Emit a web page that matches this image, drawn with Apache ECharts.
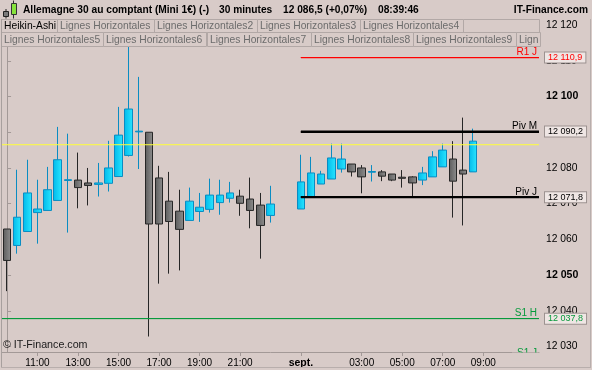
<!DOCTYPE html>
<html><head><meta charset="utf-8">
<script src="https://cdn.jsdelivr.net/npm/echarts@6/dist/echarts.min.js"></script>
<style>html,body{margin:0;padding:0;background:#d8cbc8;}#c{width:592px;height:370px;}</style>
</head><body><div id="c"></div>
<script>
// ---- DATA ----
const categories = [
  '31.08 09:30','31.08 10:00','31.08 10:30','31.08 11:00','31.08 11:30','31.08 12:00','31.08 12:30','31.08 13:00',
  '31.08 13:30','31.08 14:00','31.08 14:30','31.08 15:00','31.08 15:30','31.08 16:00','31.08 16:30','31.08 17:00',
  '31.08 17:30','31.08 18:00','31.08 18:30','31.08 19:00','31.08 19:30','31.08 20:00','31.08 20:30','31.08 21:00',
  '31.08 21:30','31.08 22:00','31.08 22:30','31.08 23:00','31.08 23:30',
  '01.09 00:00','01.09 00:30','01.09 01:00','01.09 01:30','01.09 02:00','01.09 02:30','01.09 03:00','01.09 03:30',
  '01.09 04:00','01.09 04:30','01.09 05:00','01.09 05:30','01.09 06:00','01.09 06:30','01.09 07:00','01.09 07:30',
  '01.09 08:00','01.09 08:30','01.09 09:00','01.09 09:30','01.09 10:00','01.09 10:30','01.09 11:00','01.09 11:30'
];
const opens = [12062.9,12058.3,12062.2,12067.5,12068.1,12070.9,12076.5,12076.6,12075.8,12075.4,12075.7,12077.6,12083.5,12090.1,
  12090.0,12077.2,12070.7,12067.9,12065.3,12067.8,12068.4,12070.3,12071.5,12072.1,12071.3,12069.6,12066.7,null,null,
  12068.5,12072.0,12075.5,12076.9,12079.7,12081.1,12080.0,12078.8,12078.9,12078.3,12077.4,12077.5,12076.6,12077.5,12080.3,
  12082.5,12079.4,12078.9,null,null,null,null,null,null];
const closes = [12054.1,12066.2,12073.0,12068.5,12073.9,12082.3,12076.7,12074.5,12075.1,12075.8,12080.0,12089.2,12096.5,12090.3,
  12064.3,12064.3,12065.0,12062.8,12070.7,12069.0,12072.4,12072.4,12073.0,12070.1,12068.1,12063.9,12069.9,null,null,
  12076.1,12078.6,12078.3,12082.8,12082.5,12078.9,12077.5,12079.0,12077.7,12076.6,12077.1,12075.8,12078.6,12083.1,12085.0,
  12076.3,12078.3,12087.5,null,null,null,null,null,null];
const lows = [12045.5,12056.0,12062.2,12058.8,12068.1,12070.9,12061.9,12068.7,12069.5,12072.0,12073.4,12077.6,12083.2,12079.7,
  12032.8,12047.6,12050.4,12051.3,12065.3,12064.9,12067.5,12066.9,12070.3,12066.6,12063.1,12054.6,12064.7,null,null,
  12068.5,12072.0,12075.5,12076.9,12078.7,12077.6,12072.9,12076.2,12076.3,12076.3,12074.5,12072.1,12075.2,12077.5,12080.3,
  12066.1,12063.9,12078.9,null,null,null,null,null,null];
const highs = [12062.9,12079.5,12082.3,12076.7,12080.3,12091.5,12089.6,12084.3,12080.0,12081.4,12087.6,12097.1,12114.0,12105.5,
  12090.0,12080.6,12078.9,12073.9,12074.5,12073.0,12077.0,12076.7,12076.1,12073.9,12077.3,12073.0,12075.0,null,null,
  12083.7,12083.1,12079.2,12086.8,12086.8,12081.1,12080.8,12080.8,12079.4,12078.3,12079.4,12077.7,12080.3,12084.7,12086.8,
  12087.5,12094.1,12091.0,null,null,null,null,null,null];

const tickCategories = ['31.08 11:00','31.08 13:00','31.08 15:00','31.08 17:00','31.08 19:00','31.08 21:00',
  '01.09 00:00','01.09 03:00','01.09 05:00','01.09 07:00','01.09 09:00'];
const tickTexts = ['11:00','13:00','15:00','17:00','19:00','21:00','sept.','03:00','05:00','07:00','09:00'];
const yTicks = [12030,12040,12050,12060,12070,12080,12090,12100,12110,12120];

const levelNames  = ['R1 J','Piv M','Piv J','S1 H'];
const levelValues = [12110.9, 12090.2, 12071.8, 12037.8];
const levelStart  = ['01.09 00:00','01.09 00:00','01.09 00:00','31.08 09:30'];
const lastPrice = 12086.5;

// ---- STYLE ----
const BG = '#d8cbc8';
const FONT = '"Liberation Sans", Arial, sans-serif';
const AXIS_C = '#a39997';
const LEVEL_STYLE = {
  'R1 J': {color:'#ff0000', width:1.2},
  'Piv M': {color:'#000000', width:2},
  'Piv J': {color:'#000000', width:2},
  'S1 H': {color:'#079a3c', width:1}
};
const Y_MIN = 12028.46, Y_MAX = 12121.15;
const X_MAX = categories.length - 0.5;

function fmtPrice(v, dec) {
  const s = v.toFixed(dec);
  const parts = s.split('.');
  const ip = parts[0].replace(/\B(?=(\d{3})+(?!\d))/g, ' ');
  return parts[1] ? ip + ',' + parts[1] : ip;
}

const chart = echarts.init(document.getElementById('c'), null, {renderer:'canvas', width:592, height:370});

const candleData = categories.map((c, i) => opens[i] == null ? '-' : [opens[i], closes[i], lows[i], highs[i]]);

const bullGrad = new echarts.graphic.LinearGradient(0,0,1,0,[{offset:0,color:'#00b9ea'},{offset:1,color:'#2ae6ff'}]);
const bearGrad = new echarts.graphic.LinearGradient(0,0,1,0,[{offset:0,color:'#5c5c5c'},{offset:1,color:'#8e8e8e'}]);

const showTick = (i, v) => tickCategories.indexOf(v) >= 0;

const levelSeries = levelNames.map((name, i) => {
  const st = LEVEL_STYLE[name];
  const idx = categories.indexOf(levelStart[i]);
  const x0 = idx <= 0 ? -0.5 : idx;
  const v = levelValues[i];
  const boxLabel = {show:true, position:'end', formatter:fmtPrice(v,1), color:st.color, fontSize:9, fontFamily:FONT,
    backgroundColor:'#efe6e4', borderColor:'#9c9290', borderWidth:1, padding:[1,3,0,3], distance:6};
  const nameLabel = {show:true, position:'insideEndTop', formatter:name, color:st.color, fontSize:10, fontFamily:FONT, distance:[2,0]};
  return {
    type:'line', xAxisIndex:1, yAxisIndex:0, z:5, symbol:'none', silent:true, animation:false,
    data:[[x0, v],[X_MAX, v]],
    lineStyle:{color:st.color, width:st.width},
    markLine:{
      silent:true, symbol:'none', animation:false,
      lineStyle:{color:st.color, width:st.width, type:'solid'},
      data:[
        [{coord:[x0, v], label:boxLabel}, {coord:[X_MAX, v], label:boxLabel}],
        [{coord:[x0, v], label:nameLabel}, {coord:[X_MAX, v], label:nameLabel}]
      ]
    }
  };
});

// graphic elements: header, tabs, frame
const g = [];
function txt(x, y, text, font, fill, align, valign, z) {
  g.push({type:'text', x:x, y:y, z:z||100, silent:true,
    style:{text:text, font:font, fill:fill, textAlign:align||'left', textVerticalAlign:valign||'middle'}});
}
const HB = 'bold 10.2px ' + FONT;
txt(23, 10.5, 'Allemagne 30 au comptant (Mini 1€) (-)', HB, '#000');
txt(219, 10.5, '30 minutes', HB, '#000');
txt(283, 10.5, '12 086,5 (+0,07%)', HB, '#000');
txt(378, 10.5, '08:39:46', HB, '#000');
txt(588, 10.5, 'IT-Finance.com', HB, '#000', 'right');
// icon
g.push({type:'line', z:100, silent:true, shape:{x1:6,y1:9,x2:6,y2:18.5}, style:{stroke:'#222', lineWidth:1}});
g.push({type:'rect', z:101, silent:true, shape:{x:3.5,y:11.5,width:5,height:5}, style:{fill:'#7a7a7a', stroke:'#222', lineWidth:1}});
g.push({type:'line', z:100, silent:true, shape:{x1:13.5,y1:0.5,x2:13.5,y2:18.5}, style:{stroke:'#333', lineWidth:1}});
g.push({type:'rect', z:101, silent:true, shape:{x:11.5,y:3.5,width:5,height:11}, style:{fill:'#86e33c', stroke:'#333', lineWidth:1}});

const tabRows = [
  {y:19.5, h:13, items:[['Heikin-Ashi',1,57.3],['Lignes Horizontales',57.3,154],['Lignes Horizontales2',154,257.3],
    ['Lignes Horizontales3',257.3,360],['Lignes Horizontales4',360,463.3],['',463.3,539.5]]},
  {y:32.5, h:14, items:[['Lignes Horizontales5',1,103.3],['Lignes Horizontales6',103.3,206.7],['Lignes Horizontales7',206.7,310.7],
    ['Lignes Horizontales8',310.7,412.7],['Lignes Horizontales9',412.7,515.7],['Lign',515.7,539.5]]}
];
tabRows.forEach(r => {
  r.items.forEach(it => {
    g.push({type:'rect', z:100, silent:true, shape:{x:Math.round(it[1])+0.5, y:r.y, width:Math.round(it[2]-it[1]), height:r.h},
      style:{fill:BG, stroke:'#b2a8a6', lineWidth:1}});
    if (it[0]) txt(Math.round(it[1]) + 3, r.y + r.h/2 + 0.5, it[0], '10.3px ' + FONT, it[0]==='Heikin-Ashi' ? '#000' : '#6c6c6c', 'left', 'middle', 102);
  });
});
// copyright
txt(3, 345.5, '© IT-Finance.com', '10.7px ' + FONT, '#1a1a1a');
// partially visible S1 J label
txt(537, 348.5, 'S1 J', '10px ' + FONT, '#079a3c', 'right', 'top', 100);
g.push({type:'rect', z:101, silent:true, shape:{x:512, y:352.6, width:26.5, height:8}, style:{fill:BG}});
// frame
g.push({type:'line', z:100, silent:true, shape:{x1:1.5,y1:19,x2:1.5,y2:368}, style:{stroke:'#a8a09e', lineWidth:1}});
g.push({type:'line', z:100, silent:true, shape:{x1:590.5,y1:19,x2:590.5,y2:368}, style:{stroke:'#b8aeac', lineWidth:1}});
g.push({type:'line', z:100, silent:true, shape:{x1:1,y1:367.5,x2:591,y2:367.5}, style:{stroke:'#b8aeac', lineWidth:1}});

chart.setOption({
  backgroundColor: BG,
  animation:false,
  grid:{left:2, right:53, top:21, bottom:18, containLabel:false},
  xAxis:[{
    type:'category', data:categories, boundaryGap:true, gridIndex:0,
    axisLine:{show:true, lineStyle:{color:AXIS_C, width:1}},
    axisTick:{show:true, interval:showTick, alignWithLabel:true, length:4, lineStyle:{color:AXIS_C}},
    axisLabel:{
      show:true, interval:showTick, margin:6, color:'#000', fontSize:10, fontFamily:FONT,
      formatter:(v) => { const k = tickCategories.indexOf(v); const t = tickTexts[k] || ''; return t.indexOf(':') < 0 ? '{b|' + t + '}' : t; },
      rich:{b:{fontWeight:'bold', fontSize:10.5, fontFamily:FONT, color:'#000'}}
    },
    splitLine:{show:false}
  },{
    type:'value', gridIndex:0, min:-0.5, max:X_MAX, show:false, position:'top'
  }],
  yAxis:{
    type:'value', position:'right', min:Y_MIN, max:Y_MAX,
    axisLine:{show:true, lineStyle:{color:AXIS_C}},
    axisTick:{show:true, length:4, customValues:yTicks, lineStyle:{color:AXIS_C}},
    axisLabel:{
      show:true, customValues:yTicks, margin:7, color:'#000', fontSize:10.3, fontFamily:FONT,
      formatter:(v) => { const s = fmtPrice(v,0); return v % 50 === 0 ? '{b|' + s + '}' : s; },
      rich:{b:{fontWeight:'bold', fontSize:10.6, fontFamily:FONT, color:'#000'}}
    },
    splitLine:{show:false}
  },
  graphic:{elements:g},
  series:[
    {
      type:'candlestick', xAxisIndex:0, yAxisIndex:0, z:2, data:candleData, barWidth:8, silent:true,
      itemStyle:{color:bullGrad, color0:bearGrad, borderColor:'#0a8cc2', borderColor0:'#262626', borderWidth:1}
    },
    {
      type:'line', xAxisIndex:1, yAxisIndex:0, z:3, symbol:'none', silent:true,
      data:[[-0.5, lastPrice],[X_MAX, lastPrice]],
      lineStyle:{color:'#ffff3a', width:1}
    }
  ].concat(levelSeries)
});
</script>
</body></html>
